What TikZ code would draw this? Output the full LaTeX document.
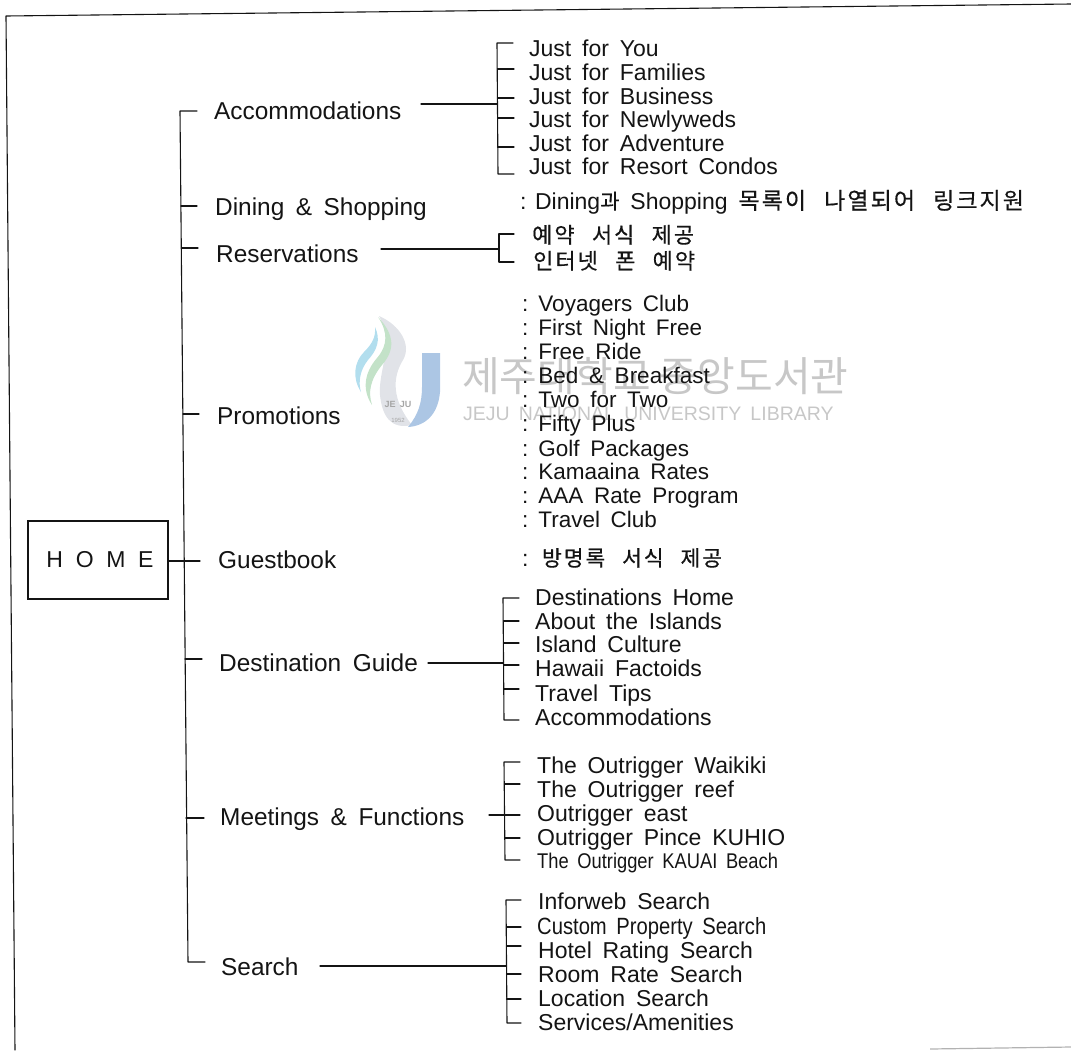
\documentclass[tikz,border=0pt]{standalone}
\usepackage{fontspec}
\setmainfont[WordSpace=1.7]{Liberation Sans}
\newfontfamily\kr[WordSpace=2.5,LetterSpace=9,FakeBold=0.5]{Noto Sans CJK KR}
\newfontfamily\wm{Noto Sans CJK KR}
\newfontfamily\narrowf[WordSpace=1.7,FakeStretch=0.86]{Liberation Sans}
\definecolor{ink}{gray}{0.08}
\definecolor{wmgray}{gray}{0.78}
\definecolor{wmblue}{RGB}{172,198,228}
\definecolor{wmsky}{RGB}{178,222,238}
\definecolor{wmgreen}{RGB}{195,226,200}
\definecolor{wmpale}{RGB}{225,227,232}
\tikzset{
  x=1pt,y=-1pt,
  link/.style={draw=ink,line width=1.1pt,line cap=round,line join=round},
  topic/.style={anchor=base west,inner sep=0pt,text=ink,font=\fontsize{24.4}{26}\selectfont},
  item/.style={anchor=base west,inner sep=0pt,text=ink,font=\fontsize{23}{24}\selectfont},
  promo/.style={anchor=base west,inner sep=0pt,text=ink,font=\fontsize{22.5}{24}\selectfont},
  small/.style={anchor=base west,inner sep=0pt,text=ink,font=\narrowf\fontsize{23.5}{24}\selectfont},
  hangul/.style={anchor=base west,inner sep=0pt,text=ink,font=\kr\fontsize{22}{24}\selectfont},
  homebox/.style={draw=ink,line width=1.2pt,minimum width=140pt,minimum height=78pt,inner sep=0pt,text=ink,font=\fontsize{23}{26}\selectfont},
}
\begin{document}
\begin{tikzpicture}
\useasboundingbox (0,0) rectangle (1071,1050);
% watermark
\fill[wmpale] (379,316) .. controls (400,325) and (412,345) .. (403,360) .. controls (392,378) and (392,400) .. (412,425) .. controls (390,430) and (382,415) .. (380,395) .. controls (378,370) and (395,345) .. (379,316) -- cycle;
\fill[wmblue] (422,353) -- (440,353) -- (440,392) .. controls (438,415) and (425,426) .. (408,427) .. controls (418,415) and (422,403) .. (422,387) -- cycle;
\fill[wmgreen] (378,317) .. controls (395,335) and (395,350) .. (382,365) .. controls (370,380) and (368,392) .. (372,405) .. controls (362,390) and (364,373) .. (377,358) .. controls (388,345) and (388,332) .. (378,317) -- cycle;
\fill[wmsky] (375,327) .. controls (381,340) and (377,350) .. (368,360) .. controls (360,370) and (358,382) .. (361,392) .. controls (352,378) and (354,362) .. (364,352) .. controls (372,344) and (376,337) .. (375,327) -- cycle;
\node[inner sep=0pt,text=gray!70,font=\bfseries\fontsize{9}{10}\selectfont] (logotext) at (398,404) {JE JU};
\node[inner sep=0pt,text=gray!70,font=\fontsize{6}{7}\selectfont] (logoyear) at (398,420) {1952};
\node[anchor=base west,inner sep=0pt,text=wmgray,font=\wm\fontsize{41}{44}\selectfont] (wmA) at (462,391) {제주대학교 중앙도서관};
\node[anchor=base west,inner sep=0pt,text=wmgray,font=\fontsize{19.5}{21}\selectfont] (wmB) at (463,420) {JEJU NATIONAL UNIVERSITY LIBRARY};
% frame
\coordinate (fA) at (1071,4);
\coordinate (fB) at (6,16);
\coordinate (fC) at (15,1050);
\draw[link] (fA) -- (fB) -- (fC);
\coordinate (fD) at (930,1049);
\coordinate (fE) at (1071,1047);
\draw[draw=gray!60,line width=1.2pt] (fD) -- (fE);
% nodes
\node[homebox] (home) at (98,560) {\hspace{4pt}H\hspace{12.7pt}O\hspace{12.7pt}M\hspace{12.7pt}E};
\node[topic] (acc) at (214,119) {Accommodations};
\node[topic] (din) at (215,215) {Dining \& Shopping};
\node[topic] (res) at (216,262) {Reservations};
\node[topic] (pro) at (217,424) {Promotions};
\node[topic] (gue) at (218,568) {Guestbook};
\node[topic] (des) at (219,671) {Destination Guide};
\node[topic] (mee) at (220,825) {Meetings \& Functions};
\node[topic] (sea) at (221,975) {Search};
\foreach \n/\y/\t in {a1/56/Just for You,a2/80/Just for Families,a3/104/Just for Business,a4/127/Just for Newlyweds,a5/151/Just for Adventure,a6/174/Just for Resort Condos}
  \node[item] (\n) at (529,\y) {\t};
\node[item] (dinA) at (520,209) {:\hspace{8.5pt}Dining{\kr\fontsize{21}{24}\selectfont 과} Shopping {\kr\fontsize{23}{24}\selectfont 목록이 나열되어 링크지원}};
\node[hangul] (r1) at (532,243) {예약 서식 제공};
\node[hangul] (r2) at (533,269) {인터넷 폰 예약};
\foreach \n/\y/\t in {p1/311/Voyagers Club,p2/335/First Night Free,p3/359/Free Ride,p4/383/Bed \& Breakfast,p5/407/Two for Two,p6/431/Fifty Plus,p7/456/Golf Packages,p8/479/Kamaaina Rates,p9/503/AAA Rate Program,p10/527/Travel Club}
  \node[promo] (\n) at (522,\y) {:\hspace{10pt}\t};
\node[item] (gA) at (522,566) {:\hspace{13.5pt}{\kr\fontsize{21.5}{24}\selectfont 방명록 서식 제공}};
\foreach \n/\y/\t in {d1/605/Destinations Home,d2/629/About the Islands,d3/652/Island Culture,d4/676/Hawaii Factoids,d5/701/Travel Tips,d6/725/Accommodations}
  \node[item] (\n) at (535,\y) {\t};
\foreach \n/\y/\t in {m1/773/The Outrigger Waikiki,m2/797/The Outrigger reef,m3/821/Outrigger east,m4/845/Outrigger Pince KUHIO}
  \node[item] (\n) at (537,\y) {\t};
\node[small,font=\narrowf\fontsize{21.3}{24}\selectfont] (m5) at (537,868) {The Outrigger KAUAI Beach};
\node[item] (s1) at (538,909) {Inforweb Search};
\node[small] (s2) at (537,934) {Custom Property Search};
\node[item] (s3) at (538,958) {Hotel Rating Search};
\node[item] (s4) at (538,982) {Room Rate Search};
\node[item] (s5) at (538,1006) {Location Search};
\node[item] (s6) at (538,1030) {Services/Amenities};
% trunk
\coordinate (tTop) at (197,111);
\coordinate (tT) at (180,111);
\coordinate (tB) at (188,962);
\coordinate (tBot) at (205,962);
\draw[link] (tTop) -- (tT) -- (tB) -- (tBot);
\foreach \nm/\xa/\xb/\y in {din/181/197/206,res/182/198/248,pro/183/199/414,des/185/202/659,mee/186/204/818}{
  \coordinate (c\nm a) at (\xa,\y); \coordinate (c\nm b) at (\xb,\y);
  \draw[link] (c\nm a) -- (c\nm b);
}
\coordinate (gueEnd) at (200,561);
\draw[link] (home.east |- gueEnd) -- (gueEnd);
% accommodation bus
\coordinate (a1s) at (513,43); \coordinate (a1b) at (497,43); \coordinate (a6b) at (498,174); \coordinate (a6s) at (514,174);
\draw[link] (a1s) -- (a1b) -- (a6b) -- (a6s);
\foreach \y in {69,98,118,147}{ \coordinate (t) at (497.5,\y); \coordinate (u) at (514,\y); \draw[link] (t) -- (u); }
\coordinate (acE) at (421,104); \coordinate (acB) at (497.5,104);
\draw[link,line width=1.3pt] (acE) -- (acB);
% reservations bus
\coordinate (r1s) at (514,234); \coordinate (r1b) at (499,234); \coordinate (r2b) at (499,262); \coordinate (r2s) at (514,262);
\draw[link] (r1s) -- (r1b) -- (r2b) -- (r2s);
\coordinate (reE) at (381,249); \coordinate (reB) at (499,249);
\draw[link] (reE) -- (reB);
% destination bus
\coordinate (d1s) at (519,598); \coordinate (d1b) at (503,598); \coordinate (d6b) at (504,720); \coordinate (d6s) at (519,720);
\draw[link] (d1s) -- (d1b) -- (d6b) -- (d6s);
\foreach \y in {621,643,665,689}{ \coordinate (t) at (503.5,\y); \coordinate (u) at (519,\y); \draw[link] (t) -- (u); }
\coordinate (deE) at (428,663); \coordinate (deB) at (503.5,663);
\draw[link] (deE) -- (deB);
% meetings bus
\coordinate (m1s) at (520,762); \coordinate (m1b) at (504,762); \coordinate (m5b) at (505,860); \coordinate (m5s) at (520,860);
\draw[link] (m1s) -- (m1b) -- (m5b) -- (m5s);
\foreach \y in {784,838}{ \coordinate (t) at (504.5,\y); \coordinate (u) at (520,\y); \draw[link] (t) -- (u); }
\coordinate (meE) at (489,815); \coordinate (meB) at (520,815);
\draw[link] (meE) -- (meB);
% search bus
\coordinate (s1s) at (521,900); \coordinate (s1b) at (506,900); \coordinate (s6b) at (507,1023); \coordinate (s6s) at (521,1023);
\draw[link] (s1s) -- (s1b) -- (s6b) -- (s6s);
\foreach \y in {927,946,974,999}{ \coordinate (t) at (506.5,\y); \coordinate (u) at (521,\y); \draw[link] (t) -- (u); }
\coordinate (seE) at (320,966); \coordinate (seB) at (506.5,966);
\draw[link,line width=1.3pt] (seE) -- (seB);
\end{tikzpicture}
\end{document}
